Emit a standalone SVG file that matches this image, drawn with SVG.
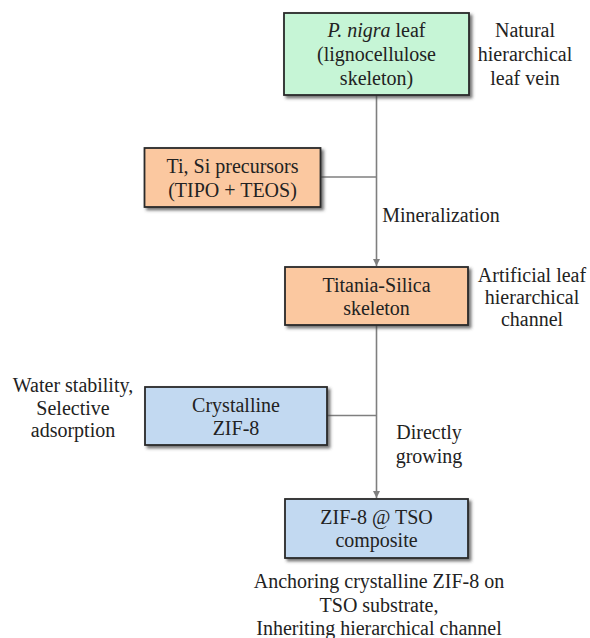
<svg xmlns="http://www.w3.org/2000/svg" width="590" height="638" viewBox="0 0 590 638">
<defs>
<filter id="sh" x="-10%" y="-10%" width="130%" height="140%">
<feDropShadow dx="2.5" dy="2.5" stdDeviation="1.5" flood-color="#444" flood-opacity="0.75"/>
</filter>
<marker id="arr" viewBox="0 0 10 10" refX="10" refY="5" markerWidth="7" markerHeight="7" orient="auto" markerUnits="userSpaceOnUse">
<path d="M0,0 L10,5 L0,10 z" fill="#7f7f7f"/>
</marker>
</defs>
<style>
text{font-family:"Liberation Serif","Times New Roman",serif;font-size:20px;fill:#222;text-anchor:middle}
.box{stroke:#2a2a2a;stroke-width:1.8;filter:url(#sh)}
.g{fill:#c6f5d6}
.o{fill:#fbc8a0}
.b{fill:#c2d9f1}
.c{stroke:#7f7f7f;stroke-width:1.6;fill:none}
</style>
<rect width="590" height="638" fill="#fff"/>
<g id="connectors">
<line class="c" x1="376.5" y1="95" x2="376.5" y2="266" marker-end="url(#arr)"/>
<line class="c" x1="321" y1="177" x2="376.5" y2="177"/>
<line class="c" x1="376.5" y1="325" x2="376.5" y2="498" marker-end="url(#arr)"/>
<line class="c" x1="327" y1="415.5" x2="376.5" y2="415.5"/>
<text x="441" y="222">Mineralization</text>
<text x="429" y="439">Directly</text>
<text x="429" y="463">growing</text>
</g>
<g id="leaf">
<rect class="box g" x="284" y="13" width="185" height="82"/>
<text x="376.5" y="37"><tspan font-style="italic">P. nigra</tspan> leaf</text>
<text x="376.5" y="61">(lignocellulose</text>
<text x="376.5" y="85">skeleton)</text>
</g>
<g id="leaf-note">
<text x="525" y="37">Natural</text>
<text x="525" y="61">hierarchical</text>
<text x="525" y="85">leaf vein</text>
</g>
<g id="precursors">
<rect class="box o" x="144.5" y="148" width="176" height="59"/>
<text x="232.5" y="172.5">Ti, Si precursors</text>
<text x="232.5" y="196.5">(TIPO + TEOS)</text>
</g>
<g id="tso">
<rect class="box o" x="285" y="267" width="183" height="58"/>
<text x="376.5" y="292">Titania-Silica</text>
<text x="376.5" y="315">skeleton</text>
</g>
<g id="tso-note">
<text x="532" y="282">Artificial leaf</text>
<text x="532" y="304">hierarchical</text>
<text x="532" y="326">channel</text>
</g>
<g id="zif8">
<rect class="box b" x="145" y="387" width="182" height="58"/>
<text x="236" y="412">Crystalline</text>
<text x="236" y="435">ZIF-8</text>
</g>
<g id="zif8-note">
<text x="73" y="392">Water stability,</text>
<text x="73" y="414.5">Selective</text>
<text x="73" y="437">adsorption</text>
</g>
<g id="composite">
<rect class="box b" x="285" y="499" width="183" height="59"/>
<text x="376.5" y="524">ZIF-8 @ TSO</text>
<text x="376.5" y="547">composite</text>
</g>
<g id="composite-note">
<text x="379" y="588">Anchoring crystalline ZIF-8 on</text>
<text x="379" y="612">TSO substrate,</text>
<text x="379" y="635">Inheriting hierarchical channel</text>
</g>
</svg>
